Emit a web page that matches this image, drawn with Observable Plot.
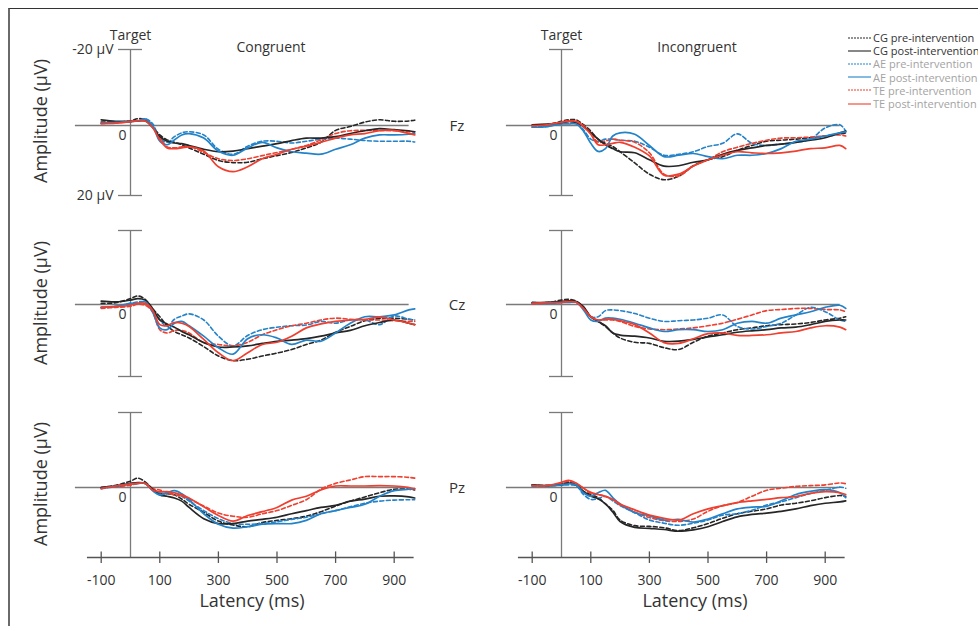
<!DOCTYPE html>
<html><head><meta charset="utf-8">
<script src="https://cdn.jsdelivr.net/npm/d3@7"></script>
<script src="https://cdn.jsdelivr.net/npm/@observablehq/plot@0.6"></script>
<style>
html,body{margin:0;padding:0;background:#fff;overflow:hidden;}
#fig{position:relative;width:978px;height:626px;overflow:hidden;font-family:"Open Sans",sans-serif;color:#333;background:#fff;}
#fig svg{position:absolute;left:0;top:0;}
.lbl{position:absolute;white-space:nowrap;line-height:1;transform:translate(-50%,-50%);}
.rot{transform:translate(-50%,-50%) rotate(-90deg);}
#frame{position:absolute;left:8px;top:8px;width:980px;height:630px;border-top:1px solid #333;border-left:2px solid #6a6a6a;}
.leg{position:absolute;left:848px;height:13px;display:flex;align-items:center;font-size:11px;white-space:nowrap;line-height:1;}
.leg svg{position:static !important;margin-right:1px;}
</style></head>
<body><div id="fig"><div id="frame"></div></div>
<script>
// ---------- data (µV; positive = downward in the figure) ----------
const times = [-100,-50,0,25,50,75,100,125,150,175,200,250,300,350,400,450,500,550,600,650,700,750,800,850,900,950,970];
const seriesNames = ["CG pre-intervention","CG post-intervention","AE pre-intervention","AE post-intervention","TE pre-intervention","TE post-intervention"];
const seriesGroups = ["CG","CG","AE","AE","TE","TE"];
const seriesPhases = ["pre","post","pre","post","pre","post"];
const electrodes = ["Fz","Cz","Pz"];
const conditions = ["Congruent","Incongruent"];
const xTicks = [-100,100,300,500,700,900];

const fzCongruent = [
  [-0.9,-0.9,-1.2,-1.8,-1.5,0.3,2.7,4.1,4.8,5.5,6.4,8.2,10.0,10.6,10.5,9.5,8.6,7.7,6.4,4.8,1.4,0.3,-0.9,-1.5,-1.1,-1.2,-1.4],
  [-1.5,-1.1,-1.1,-1.2,-1.2,0.5,3.2,4.5,5.0,5.2,5.7,6.8,7.5,7.3,6.6,5.9,5.2,4.3,3.6,3.6,3.2,2.3,1.5,0.9,1.2,1.5,1.8],
  [-0.6,-0.8,-1.0,-1.2,-1.8,-0.5,3.6,4.8,3.2,2.1,1.8,2.7,6.8,8.2,5.9,4.5,4.5,5.0,4.5,3.9,3.6,3.9,4.3,4.5,4.5,4.5,4.7],
  [-0.6,-0.8,-1.1,-1.2,-1.7,0.0,4.5,5.5,4.1,2.7,2.3,3.6,7.3,8.5,6.4,4.8,6.4,7.5,7.9,8.2,6.8,5.5,3.6,2.7,2.7,2.5,2.3],
  [-0.5,-0.7,-1.0,-1.2,-1.3,0.3,3.6,6.1,6.4,6.1,5.9,7.7,9.5,10.0,9.5,8.6,7.7,6.8,5.7,4.1,2.3,1.5,1.4,1.4,1.5,1.8,1.8],
  [-0.5,-0.6,-1.0,-1.3,-1.2,0.5,4.1,6.4,6.6,6.4,6.1,7.3,11.8,13.2,11.8,9.5,8.2,6.8,5.9,4.8,3.6,2.7,2.3,1.5,1.4,2.3,2.7]
];
const fzIncongruent = [
  [0,-0.2,-1.1,-1.5,-1.5,-0.2,1.6,3.9,5.1,6.0,7.5,10.7,13.9,15.5,14.5,11.5,9.8,8.9,7.1,5.7,4.5,4.2,3.9,3.5,3.0,2.4,2.1],
  [-0.2,-0.4,-0.6,-1.1,-0.8,0.3,2.1,3.9,5.5,6.6,7.5,7.8,9.8,11.6,11.5,10.5,9.8,8.2,7.1,6.4,5.7,5.3,4.8,4.2,3.5,2.1,1.6],
  [0.5,0.3,-0.6,-0.6,-0.6,1.2,3.9,4.5,3.9,3.9,4.2,4.5,6.2,8.5,8.2,7.5,6.0,5.1,2.4,5.1,5.7,5.3,4.8,3.9,0.7,-0.2,1.6],
  [0.5,0.3,-0.4,-0.4,-0.4,1.6,5.1,7.4,6.6,3.0,2.1,2.5,5.7,8.9,8.5,8.0,8.9,9.5,8.5,8.5,8.0,6.6,4.5,3.9,3.0,2.1,1.8],
  [0.3,0,-0.8,-1.3,-1.1,0,2.1,4.8,4.4,3.9,4.2,4.8,7.8,13.9,14.4,11.6,9.8,7.5,6.2,5.1,4.2,3.6,3.5,3.3,3.0,2.7,3.0],
  [0,-0.2,-0.9,-1.1,-1.1,0.3,2.5,5.5,5.5,5.1,4.8,6.2,8.7,14.2,13.9,11.6,9.8,8.5,7.5,7.8,8.0,7.8,7.3,6.6,6.4,5.7,6.6]
];
const czCongruent = [
  [-0.3,-0.5,-1.6,-2.3,-1.4,1.1,3.4,5.9,7.5,8.4,9.3,11.7,14.3,15.6,15.2,14.3,13.5,12.5,11.1,9.9,7.7,6.1,4.5,3.9,3.8,4.1,4.3],
  [-0.9,-0.7,-1.2,-1.6,-1.2,1.1,4.3,5.4,6.3,7.5,8.4,10.6,11.8,11.8,11.5,10.8,10.2,9.9,9.5,8.8,7.9,7.2,5.9,5.0,4.3,5.2,5.6],
  [0.8,0.5,-0.3,-0.7,-0.7,1.5,4.3,6.1,4.1,3.2,2.6,4.3,8.8,11.5,8.6,7.0,6.3,5.9,5.7,4.7,5.2,4.3,4.3,5.6,3.2,4.1,4.3],
  [0.8,0.5,-0.3,-0.3,-0.7,2.0,6.5,7.0,5.2,4.7,5.9,8.8,12.0,13.8,9.5,8.4,9.3,11.1,9.9,10.2,7.9,5.2,3.4,3.4,2.9,1.5,1.2],
  [1.1,0.8,0.5,-0.1,0.2,2.0,7.0,7.9,7.2,7.2,7.9,10.6,11.1,11.5,10.5,8.4,7.0,5.9,5.2,4.3,3.8,4.1,4.3,4.3,4.5,4.7,4.7],
  [0.8,0.6,0.2,-0.3,-0.3,1.5,5.6,5.9,5.0,5.2,6.1,9.7,13.4,15.6,13.4,11.1,10.5,8.8,6.5,5.4,4.7,4.3,4.1,3.5,4.3,5.2,5.6]
];
const czIncongruent = [
  [-0.5,-0.5,-1.2,-1.4,-0.9,0.8,3.4,4.7,6.1,7.9,9.3,10.5,10.8,12.0,12.5,10.5,8.8,7.9,7.0,6.5,5.9,5.6,5.4,5.0,4.3,3.8,3.4],
  [-0.5,-0.6,-0.8,-1.0,-0.8,0.6,3.4,4.7,5.9,7.9,8.5,8.8,9.3,10.2,10.2,9.7,9.0,8.4,7.7,7.3,7.0,6.5,6.3,5.6,4.7,4.3,4.3],
  [-0.5,-0.5,-0.6,-0.7,-0.7,1.1,3.4,3.4,1.7,1.5,1.7,2.5,3.8,4.7,4.5,4.3,3.8,2.9,6.1,6.8,6.1,5.2,2.9,0.8,2.0,4.3,4.7],
  [-0.3,-0.3,-0.5,-0.6,-0.6,1.5,4.3,4.7,3.8,3.8,4.1,5.2,6.5,7.5,7.0,7.0,7.5,7.0,5.2,4.7,5.2,3.8,2.9,2.0,0.8,0.2,1.1],
  [-0.1,-0.3,-0.6,-0.7,-0.5,1.1,3.4,4.3,4.3,4.3,4.7,6.1,6.8,7.0,6.8,6.5,5.9,5.2,4.1,2.9,1.7,1.4,1.1,1.1,1.4,1.5,2.0],
  [-0.3,-0.5,-0.6,-0.8,-0.6,1.1,3.4,4.3,4.1,4.1,4.5,5.6,7.9,10.6,10.8,9.5,8.1,7.9,8.6,8.6,8.4,7.9,7.5,6.5,5.9,6.3,7.0]
];
const pzCongruent = [
  [0,-0.6,-1.7,-2.5,-1.5,0.3,1.6,1.8,2.1,3.3,4.8,7.1,9.6,10.7,11.2,10.0,9.4,8.9,8.2,6.9,5.3,3.9,2.7,1.5,0.5,0.5,0.7],
  [0,-0.4,-1.1,-1.3,-1.1,0.5,2.1,2.5,3.0,3.9,5.7,8.9,10.3,10.3,9.6,9.1,8.5,7.5,6.6,5.7,5.1,3.9,3.3,2.5,2.4,2.7,3.0],
  [0.3,-0.2,-0.9,-1.1,-1.1,0.7,1.6,1.8,1.6,2.5,3.9,6.6,8.9,10.3,10.5,10.3,9.8,9.1,8.5,7.5,6.6,5.5,4.5,3.9,3.6,3.5,3.5],
  [0.3,-0.4,-0.9,-1.1,-1.1,0.9,2.1,1.5,0.9,1.8,3.5,7.5,10.5,11.6,11.2,10.5,10.3,10.3,9.4,7.5,6.6,5.7,4.8,2.5,0.9,0.5,0.3],
  [0,-0.2,-0.6,-1.1,-1.1,0.3,0.7,1.5,2.1,2.5,3.3,5.3,7.3,8.2,8.5,7.5,6.6,5.1,3.5,0.5,-1.1,-2.0,-2.9,-2.9,-2.9,-2.7,-2.5],
  [0.3,-0.4,-0.9,-1.1,-1.1,0.7,1.2,1.2,1.5,2.1,3.0,5.5,8.0,9.6,8.0,6.9,5.7,3.6,2.5,0.7,-0.4,-0.4,-0.4,-0.5,-0.4,0,0.3]
];
const pzIncongruent = [
  [-0.7,-0.5,-1.0,-1.4,-0.7,1.1,2.0,2.9,4.7,6.5,9.3,10.9,11.1,11.5,12.3,11.5,10.3,8.8,7.5,6.8,6.1,5.0,4.5,3.8,2.9,2.3,2.5],
  [-0.7,-0.5,-0.7,-1.2,-0.7,1.1,2.5,3.2,4.7,7.0,9.7,11.4,11.7,12.0,12.5,12.1,11.2,9.7,8.4,7.7,7.3,6.8,6.1,5.2,4.5,4.1,3.8],
  [-0.3,-0.5,-0.6,-0.7,-0.5,2.0,3.4,3.2,2.5,3.8,5.2,7.2,9.3,10.2,10.8,10.2,9.3,7.9,7.5,6.5,5.0,4.1,2.9,1.7,0.8,-0.1,0.2],
  [-0.5,-0.5,-0.7,-1.0,-0.7,1.5,2.5,1.5,0.8,2.9,4.7,7.2,8.1,9.3,9.1,9.9,9.0,7.5,6.1,5.6,5.4,3.8,2.0,1.1,0.6,1.5,2.9],
  [-0.5,-0.5,-1.2,-1.6,-1.0,0.2,1.7,2.0,2.5,3.4,5.0,7.0,8.6,9.5,9.7,9.0,6.8,5.2,4.3,2.5,0.8,0.2,-0.3,-0.5,-0.7,-1.2,-1.0],
  [-0.5,-0.5,-1.4,-1.9,-1.2,0.2,1.4,2.0,2.6,3.4,4.7,6.4,7.9,8.8,9.3,7.5,6.1,5.2,4.3,3.8,3.4,2.9,2.6,1.7,1.2,1.5,2.0]
];

// ---------- layout & style ----------
const panels = [[fzCongruent, fzIncongruent],[czCongruent, czIncongruent],[pzCongruent, pzIncongruent]];
const colZero = [130, 561];          // pixel of t = 0 ms
const pxPerMs = 0.293;
const rowRanges = [[49,125,195],[230,304,376],[412,487,557]]; // pixels of -20, 0, 20 µV
const groupColors = {domain:["CG","AE","TE"], range:["#262626","#2383c9","#ee3f2f"]};
const axisColor = "#7a7a7a";
const fig = document.getElementById("fig");

function tidy(values){
  return values.flatMap((vals,i) => times.map((t,j) => ({t, v: vals[j], g: seriesGroups[i], phase: seriesPhases[i]})));
}

panels.forEach((rowPanels, r) => {
  rowPanels.forEach((values, c) => {
    const rows = tidy(values);
    const last = r === 2;
    const marks = [
      Plot.ruleY([0], {x1: -188, x2: 951, stroke: axisColor, strokeWidth: 1.3}),
      Plot.ruleX([0], {y1: -20, y2: 20, stroke: axisColor, strokeWidth: 1.3}),
      Plot.ruleY(last ? [-20] : [-20, 20], {x1: -41, x2: 41, stroke: axisColor, strokeWidth: 1.3}),
      Plot.text(["0"], {x: 0, y: 0, text: d => d, dx: -8, dy: 10, fontSize: 14, fill: "#333"}),
      Plot.line(rows.filter(d => d.phase === "pre"), {x: "t", y: "v", z: "g", stroke: "g", strokeWidth: 1.6, strokeDasharray: "4,2.5", curve: "catmull-rom"}),
      Plot.line(rows.filter(d => d.phase === "post"), {x: "t", y: "v", z: "g", stroke: "g", strokeWidth: 1.7, curve: "catmull-rom"})
    ];
    if (r === 0) {
      marks.push(Plot.text(["Target"], {x: 0, y: -20, text: d => d, dy: -14, fontSize: 14, fill: "#333"}));
      if (c === 0) {
        marks.push(Plot.text(["-20 µV"], {x: 0, y: -20, text: d => d, dx: -17, textAnchor: "end", fontSize: 14, fill: "#333"}));
        marks.push(Plot.text(["20 µV"], {x: 0, y: 20, text: d => d, dx: -17, textAnchor: "end", fontSize: 14, fill: "#333"}));
      }
    }
    if (last) {
      marks.push(Plot.ruleY([20], {x1: -147, x2: 968, stroke: "#555", strokeWidth: 1.4}));
      marks.push(Plot.ruleX(xTicks, {y1: 18.4, y2: 21.7, stroke: "#555", strokeWidth: 1.3}));
      marks.push(Plot.text(xTicks, {x: d => d, y: 20, text: d => String(d), dy: 23, fontSize: 14, fill: "#333"}));
    }
    const svg = Plot.plot({
      width: 978, height: 626,
      style: {background: "transparent", fontFamily: "Open Sans", overflow: "visible"},
      x: {type: "linear", domain: [0, 900], range: [colZero[c], colZero[c] + 900 * pxPerMs], axis: null},
      y: {type: "linear", domain: [-20, 0, 20], range: rowRanges[r], axis: null},
      color: groupColors,
      marks
    });
    fig.appendChild(svg);
  });
});

// ---------- HTML labels ----------
function label(text, x, y, size, extra){
  const d = document.createElement("div");
  d.className = "lbl" + (extra ? " " + extra : "");
  d.textContent = text;
  d.style.left = x + "px"; d.style.top = y + "px"; d.style.fontSize = size + "px";
  fig.appendChild(d);
}
label(conditions[0], 271, 47, 14);
label(conditions[1], 697, 47, 14);
const elecY = [125, 304, 487];
electrodes.forEach((e, i) => label(e, 457, elecY[i], 15));
const ampY = [121, 303, 484];
ampY.forEach(y => label("Amplitude (µV)", 40, y, 18, "rot"));
label("Latency (ms)", 252, 600, 18);
label("Latency (ms)", 695, 600, 18);

// legend
seriesNames.forEach((name, i) => {
  const row = document.createElement("div");
  row.className = "leg";
  row.style.top = (31 + i * 13.2) + "px";
  const col = groupColors.range[groupColors.domain.indexOf(seriesGroups[i])];
  const dash = seriesPhases[i] === "pre" ? ' stroke-dasharray="2,1"' : '';
  row.innerHTML = `<svg width="24" height="6"><line x1="0" x2="23" y1="3" y2="3" stroke="${col}" stroke-width="1.1"${dash}/></svg><span style="color:${seriesGroups[i]==="CG" ? "#333" : "#a3a3a3"}">${name}</span>`;
  fig.appendChild(row);
});
</script>
</body></html>
